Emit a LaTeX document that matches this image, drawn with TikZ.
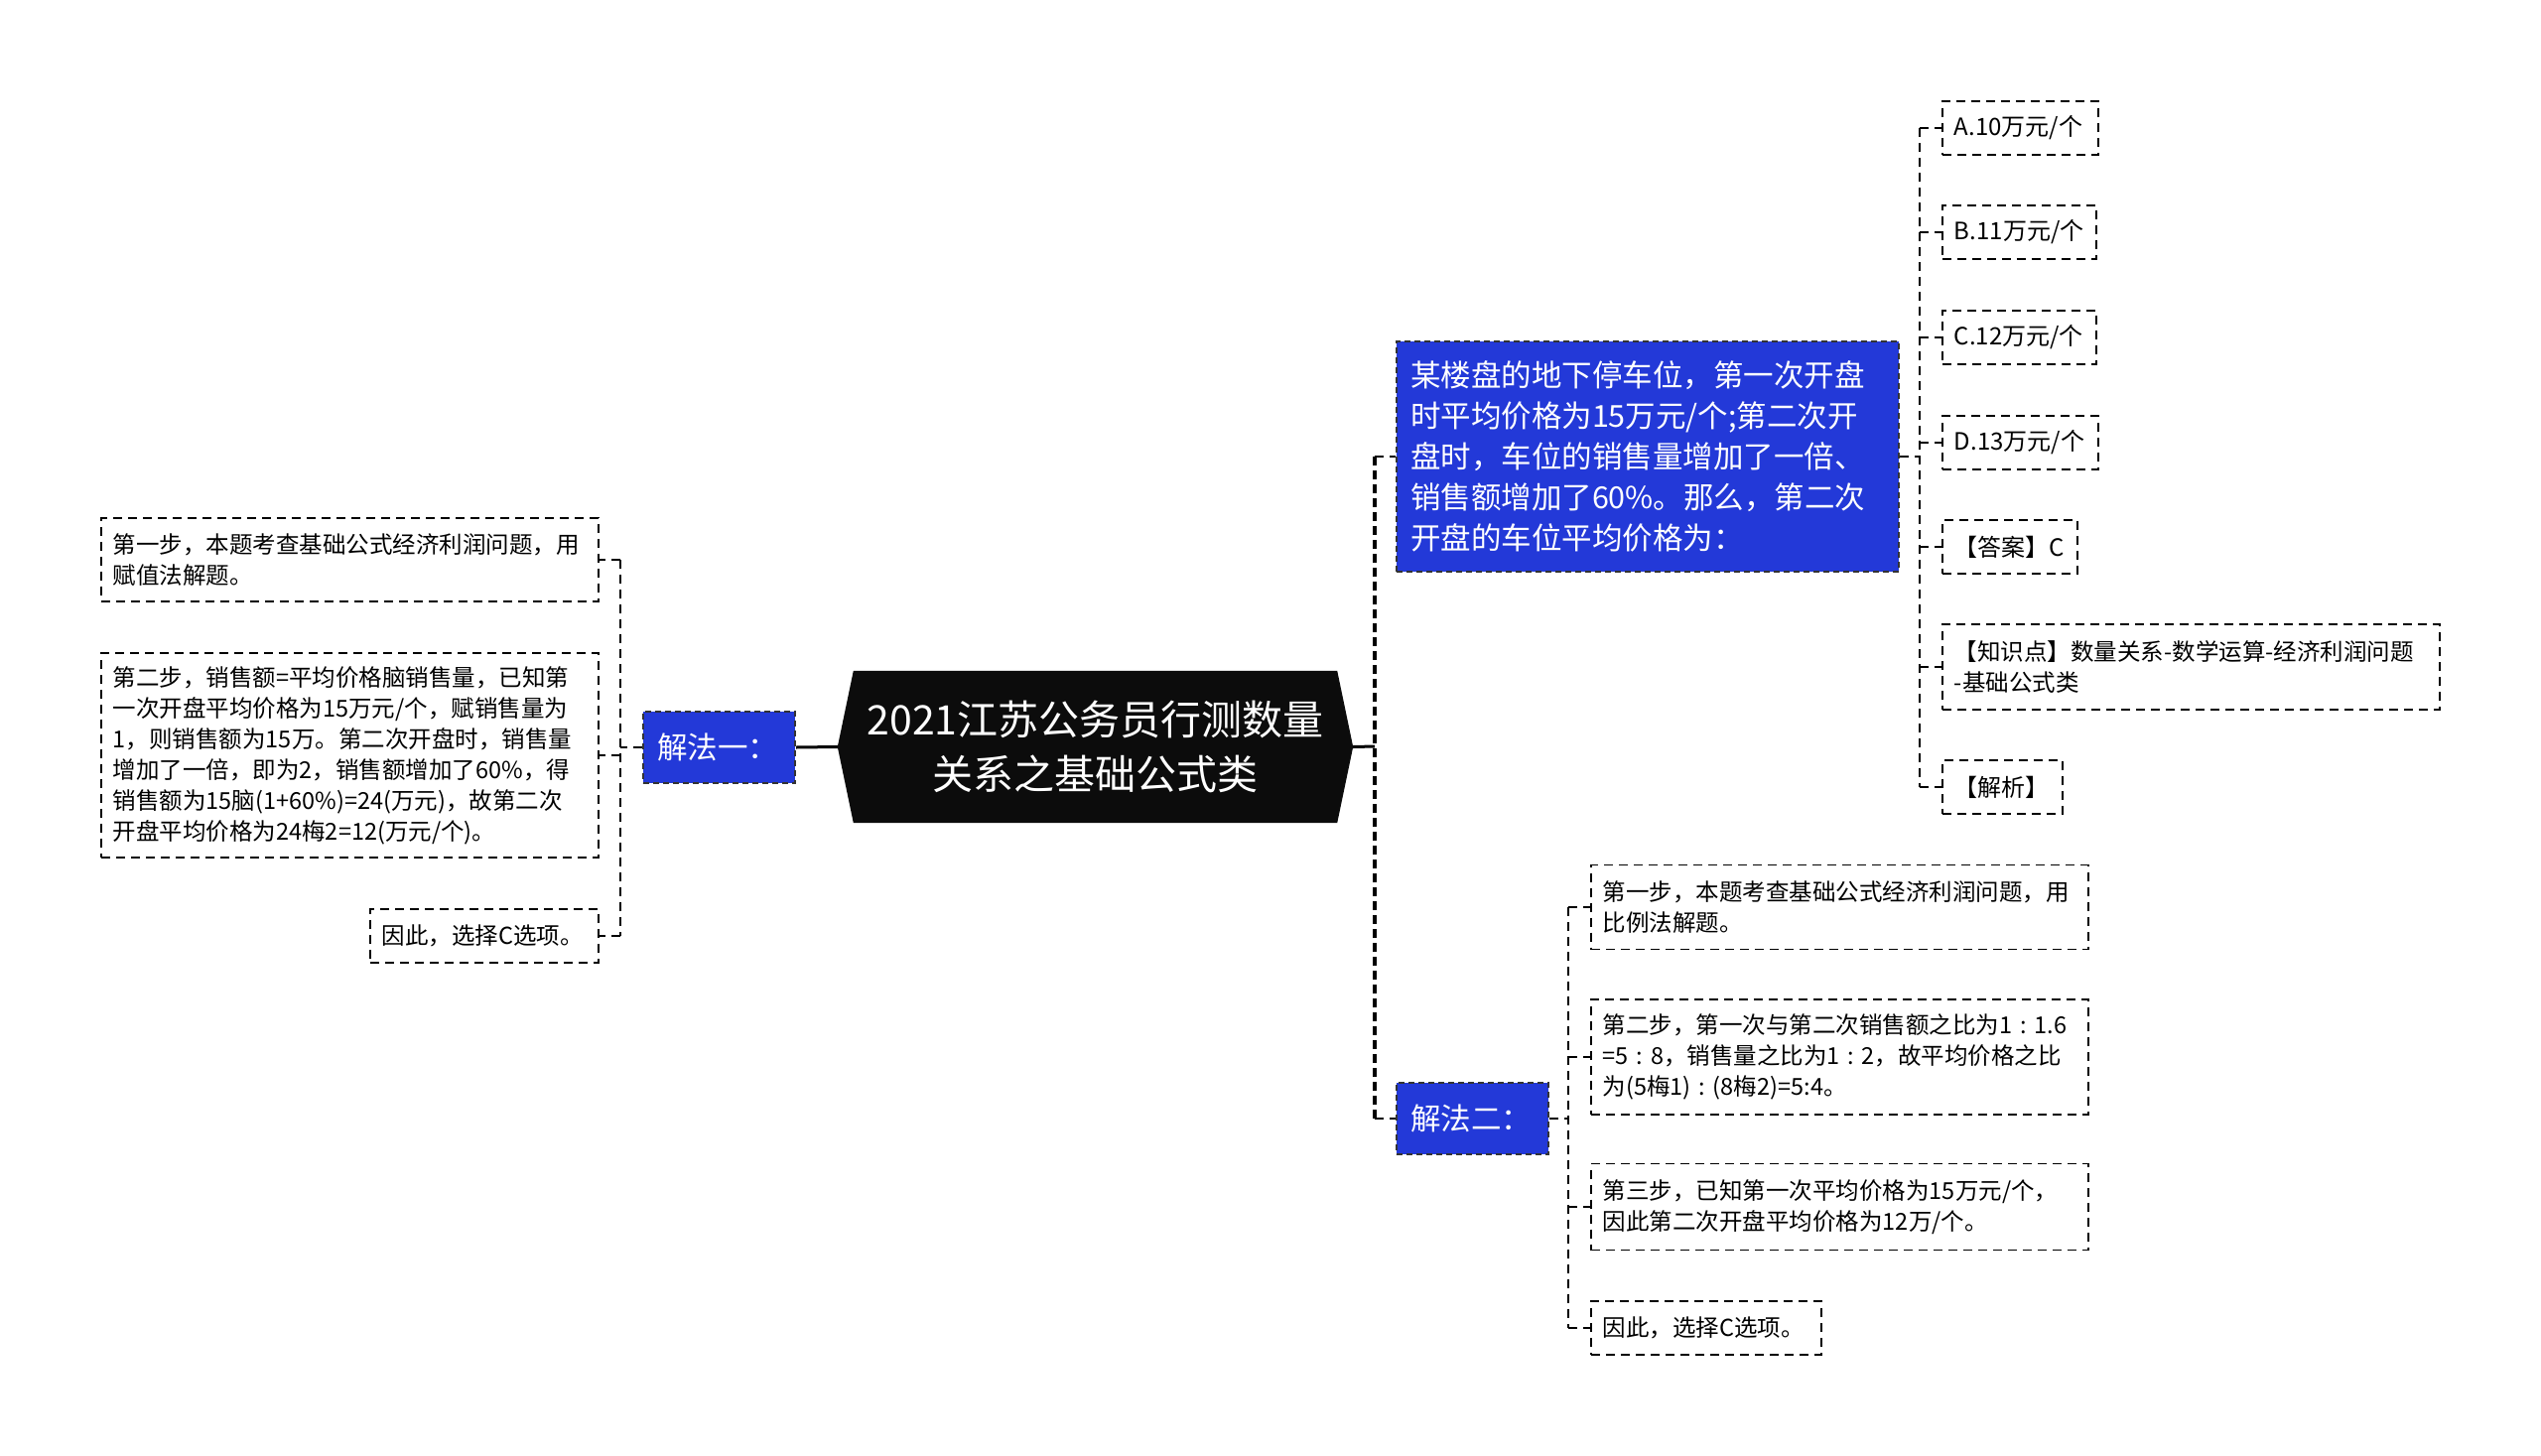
\documentclass[tikz,border=0pt]{standalone}
\usepackage{fontspec}
\setmainfont{Noto Sans CJK SC}
\usetikzlibrary{backgrounds,calc}
\definecolor{myblue}{HTML}{2339D8}
\definecolor{ctfill}{HTML}{0C0C0C}
\newcommand{\cc}{\hspace{0.33em}:\hspace{0.33em}}
\tikzset{
  box/.style={draw=black, dash pattern=on 9pt off 6pt, line width=1.8pt, fill=white, anchor=west, align=left, inner xsep=12pt, inner ysep=0pt, font=\fontsize{23.5}{31}\selectfont},
  bluebox/.style={draw=black!80, dash pattern=on 6pt off 4pt, line width=2pt, fill=myblue, text=white, anchor=west, align=left, inner xsep=14pt, inner ysep=0pt, font=\fontsize{30.5}{41}\selectfont},
  link/.style={draw=black, line width=1.8pt, dash pattern=on 9pt off 6pt},
  spine/.style={draw=black, line width=3.5pt, dash pattern=on 9pt off 5pt},
  mainlink/.style={draw=black, line width=3pt},
  central/.style={text=white, align=center, inner sep=0pt, minimum width=487pt, minimum height=153pt, font=\fontsize{41}{55}\selectfont},
}
\begin{document}
\begin{tikzpicture}[x={(1pt,0)}, y={(0,-1pt)}]
\useasboundingbox (0,0) rectangle (2560,1467);

% central node
\node[central] (ct) at (1103.5,752.5) {2021江苏公务员行测数量\\关系之基础公式类};
\begin{scope}[on background layer]
\fill[white] (0,0) rectangle (2560,1467);
\fill[ctfill] (ct.north west) -- (ct.north east) -- ($(ct.east)+(16,0)$) -- (ct.south east) -- (ct.south west) -- ($(ct.west)+(-16,0)$) -- cycle;
\end{scope}
\coordinate (ctL) at ($(ct.west)+(-16,0)$);
\coordinate (ctR) at ($(ct.east)+(16,0)$);

% left branch
\node[bluebox, text width=125pt, minimum height=72pt] (j1) at (647,753) {解法一：};
\node[box, text width=477pt, minimum height=84pt] (L1) at (101,564) {第一步，本题考查基础公式经济利润问题，用\\赋值法解题。};
\node[box, text width=477pt, minimum height=206pt] (L2) at (101,761) {第二步，销售额=平均价格脑销售量，已知第\\一次开盘平均价格为15万元/个，赋销售量为\\1，则销售额为15万。第二次开盘时，销售量\\增加了一倍，即为2，销售额增加了60\%，得\\销售额为15脑(1+60\%)=24(万元)，故第二次\\开盘平均价格为24梅2=12(万元/个)。};
\node[box, text width=206pt, minimum height=54pt] (L3) at (372,943) {因此，选择C选项。};

% right top branch
\node[bluebox, text width=478pt, minimum height=232pt] (Q) at (1406,460) {某楼盘的地下停车位，第一次开盘\\时平均价格为15万元/个;第二次开\\盘时，车位的销售量增加了一倍、\\销售额增加了60\%。那么，第二次\\开盘的车位平均价格为：};
\node[box, font=\fontsize{24}{31}\selectfont, text width=133pt, minimum height=54pt] (A) at (1956,129) {A.10万元/个};
\node[box, font=\fontsize{24}{31}\selectfont, text width=131pt, minimum height=54pt] (B) at (1956,234) {B.11万元/个};
\node[box, font=\fontsize{24}{31}\selectfont, text width=131pt, minimum height=54pt] (C) at (1956,340) {C.12万元/个};
\node[box, font=\fontsize{24}{31}\selectfont, text width=133pt, minimum height=54pt] (D) at (1956,446) {D.13万元/个};
\node[box, font=\fontsize{24}{31}\selectfont, text width=112pt, minimum height=54pt] (ans) at (1956,551) {【答案】C};
\node[box, text width=477pt, minimum height=86pt] (kp) at (1956,672) {【知识点】数量关系-数学运算-经济利润问题\\-基础公式类};
\node[box, font=\fontsize{24}{31}\selectfont, text width=97pt, minimum height=54pt] (jx) at (1956,793) {【解析】};

% right bottom branch
\node[bluebox, text width=125pt, minimum height=72pt] (j2) at (1406,1127) {解法二：};
\node[box, text width=477pt, minimum height=85pt] (S1) at (1602,914) {第一步，本题考查基础公式经济利润问题，用\\比例法解题。};
\node[box, text width=477pt, minimum height=116pt] (S2) at (1602,1065) {第二步，第一次与第二次销售额之比为1\cc1.6\\=5\cc8，销售量之比为1\cc2，故平均价格之比\\为(5梅1)\cc(8梅2)=5:4。};
\node[box, text width=477pt, minimum height=87pt] (S3) at (1602,1216) {第三步，已知第一次平均价格为15万元/个，\\因此第二次开盘平均价格为12万/个。};
\node[box, text width=208pt, minimum height=54pt] (S4) at (1602,1338) {因此，选择C选项。};

% spine coordinates
\coordinate (Ms) at (1385,752);
\coordinate (Ls) at (625,753);
\coordinate (Qs) at (1934,460);
\coordinate (Js) at (1580,1127);

% main connectors
\draw[mainlink] (ctL) -- (j1.east);
\draw[mainlink] (ctR) -- (Ms);
\draw[spine] (Ms |- Q.west) -- (Ms |- j2.west);
\draw[link] (Ms |- Q.west) -- (Q.west);
\draw[link] (Ms |- j2.west) -- (j2.west);

% left connectors
\draw[link] (j1.west) -- (Ls);
\draw[link] (Ls |- L1.east) -- (Ls |- L3.east);
\foreach \n in {L1,L2,L3} \draw[link] (Ls |- \n.east) -- (\n.east);

% Q children
\draw[link] (Q.east) -- (Qs);
\draw[link] (Qs |- A.west) -- (Qs |- jx.west);
\foreach \n in {A,B,C,D,ans,kp,jx} \draw[link] (Qs |- \n.west) -- (\n.west);

% j2 children
\draw[link] (j2.east) -- (Js);
\draw[link] (Js |- S1.west) -- (Js |- S4.west);
\foreach \n in {S1,S2,S3,S4} \draw[link] (Js |- \n.west) -- (\n.west);
\end{tikzpicture}
\end{document}
